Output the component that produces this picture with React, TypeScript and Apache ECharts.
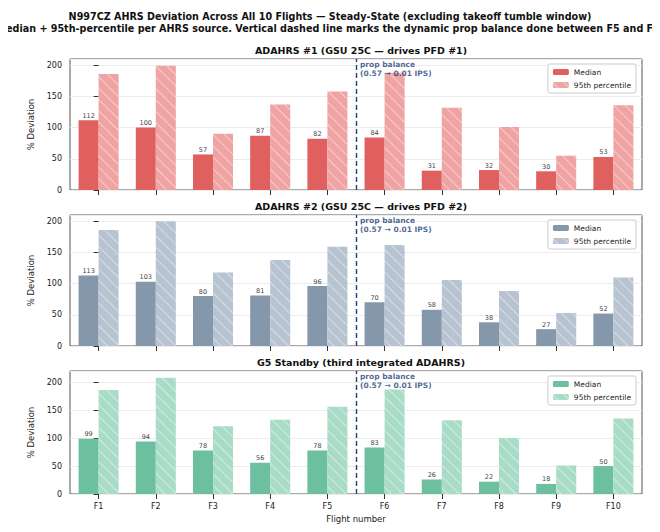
import React, { useEffect, useRef } from "react";
import * as echarts from "echarts";

const categories = ["F1", "F2", "F3", "F4", "F5", "F6", "F7", "F8", "F9", "F10"];
const a1Median = [112, 100, 57, 87, 82, 84, 31, 32, 30, 53];
const a1P95 = [186, 199, 90, 137, 158, 188, 132, 101, 55, 136];
const a2Median = [113, 103, 80, 81, 96, 70, 58, 38, 27, 52];
const a2P95 = [186, 200, 118, 138, 159, 162, 106, 88, 53, 110];
const g5Median = [99, 94, 78, 56, 78, 83, 26, 22, 18, 50];
const g5P95 = [186, 208, 121, 133, 156, 187, 132, 100, 51, 135];
const panelTitles = [
  "ADAHRS #1 (GSU 25C — drives PFD #1)",
  "ADAHRS #2 (GSU 25C — drives PFD #2)",
  "G5 Standby (third integrated ADAHRS)",
];
const propBalanceAt = 4.5;

export default function App() {
  const ref = useRef<HTMLDivElement>(null);
  useEffect(() => {
    const chart = echarts.init(ref.current!, null, { renderer: "svg" });
    const panels = [
      { top: 51, h: 131, max: 210, med: a1Median, p95: a1P95, c1: "#e05f5f", c2: "#f0a3a3" },
      { top: 207, h: 131, max: 210, med: a2Median, p95: a2P95, c1: "#8497ab", c2: "#b7c3d0" },
      { top: 363, h: 131, max: 220, med: g5Median, p95: g5P95, c1: "#6cbf9f", c2: "#a9dcc7" },
    ];
    const font = "DejaVu Sans";
    const grid: any[] = [];
    const xAxis: any[] = [];
    const yAxis: any[] = [];
    const series: any[] = [];
    const legend: any[] = [];
    const title: any[] = [
      {
        text: "N997CZ AHRS Deviation Across All 10 Flights — Steady-State (excluding takeoff tumble window)\nMedian + 95th-percentile per AHRS source. Vertical dashed line marks the dynamic prop balance done between F5 and F6.",
        left: "center",
        top: -3,
        textStyle: { fontFamily: font, fontSize: 9.6, fontWeight: "bold", color: "#111", lineHeight: 12 },
      },
    ];
    panels.forEach((p, i) => {
      grid.push({ left: 62, right: 10, top: p.top, height: p.h, show: true, borderColor: "#555", borderWidth: 1 });
      title.push({
        text: panelTitles[i],
        left: 348,
        textAlign: "center",
        top: p.top - 19,
        textStyle: { fontFamily: font, fontSize: 9.5, fontWeight: "bold", color: "#111" },
      });
      xAxis.push({
        type: "category",
        data: categories,
        gridIndex: i,
        axisLine: { show: false },
        axisTick: { show: true, alignWithLabel: true, lineStyle: { color: "#333" } },
        axisLabel: { show: i === 2, fontFamily: font, fontSize: 8, color: "#222" },
        name: i === 2 ? "Flight number" : "",
        nameLocation: "middle",
        nameGap: 20,
        nameTextStyle: { fontFamily: font, fontSize: 8.5, color: "#222" },
      });
      xAxis.push({ type: "value", gridIndex: i, min: -0.5, max: 9.5, show: false });
      yAxis.push({
        type: "value",
        gridIndex: i,
        min: 0,
        max: p.max,
        interval: 50,
        axisLine: { show: false },
        axisTick: { show: true, lineStyle: { color: "#333" } },
        axisLabel: { fontFamily: font, fontSize: 8, color: "#222", showMaxLabel: false },
        splitLine: { lineStyle: { color: "#ececec" } },
        name: "% Deviation",
        nameLocation: "middle",
        nameGap: 28,
        nameTextStyle: { fontFamily: font, fontSize: 8.5, color: "#222" },
      });
      series.push({
        type: "bar",
        name: "Median",
        xAxisIndex: i * 2,
        yAxisIndex: i,
        data: p.med,
        barWidth: "35%",
        barGap: "0%",
        itemStyle: { color: p.c1 },
        label: { show: true, position: "top", distance: 1, fontFamily: font, fontSize: 6.5, color: "#444" },
      });
      series.push({
        type: "bar",
        name: "95th percentile",
        xAxisIndex: i * 2,
        yAxisIndex: i,
        data: p.p95,
        barWidth: "35%",
        barGap: "0%",
        itemStyle: {
          color: p.c2,
          decal: { symbol: "rect", dashArrayX: [1, 0], dashArrayY: [0.8, 7], rotation: Math.PI / 4, color: "rgba(255,255,255,0.45)" },
        },
      });
      series.push({
        type: "scatter",
        xAxisIndex: i * 2 + 1,
        yAxisIndex: i,
        symbolSize: 0,
        silent: true,
        data: [[propBalanceAt, p.max - 2]],
        label: {
          show: true,
          position: [4, 0],
          formatter: "prop balance\n(0.57 → 0.01 IPS)",
          align: "left",
          verticalAlign: "top",
          fontFamily: font,
          fontSize: 7.5,
          fontWeight: "bold",
          color: "#1f3f7a",
          lineHeight: 9,
        },
        markLine: {
          silent: true,
          symbol: "none",
          lineStyle: { color: "#1f3f7a", type: [5, 3], width: 1.4 },
          label: { show: false },
          data: [{ xAxis: propBalanceAt }],
        },
      });
      legend.push({
        data: [
          { name: "Median", itemStyle: { color: p.c1 } },
          { name: "95th percentile", itemStyle: { color: p.c2 } },
        ],
        orient: "vertical",
        right: 16,
        top: p.top + 5,
        itemWidth: 16,
        itemHeight: 6,
        itemGap: 5,
        padding: [4, 5],
        borderColor: "#ccc",
        borderWidth: 1,
        borderRadius: 2,
        backgroundColor: "rgba(255,255,255,0.85)",
        textStyle: { fontFamily: font, fontSize: 7.5, color: "#222" },
        selectedMode: false,
      });
    });
    chart.setOption({ animation: false, backgroundColor: "#fff", title, grid, xAxis, yAxis, series, legend });
    return () => chart.dispose();
  }, []);
  return <div ref={ref} style={{ width: 644, height: 516 }} />;
}
